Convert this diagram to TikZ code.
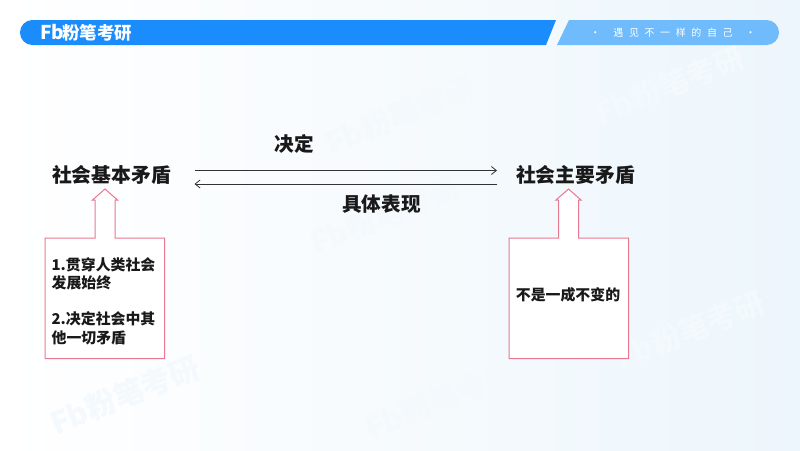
\documentclass[tikz,border=0pt]{standalone}
\usepackage{fontspec}
\setmainfont{Noto Sans CJK SC}
\usetikzlibrary{arrows.meta,shadings,calc}
\definecolor{barblue}{HTML}{1B8CFB}
\definecolor{barlight}{HTML}{6FBBFB}
\definecolor{pinkline}{HTML}{E8788F}
\definecolor{lineink}{HTML}{333333}
\definecolor{bgend}{HTML}{EDF6FC}
\definecolor{wm}{HTML}{F3F9FD}
\newcommand{\tightlines}{\setlength{\lineskiplimit}{-100pt}}
\tikzset{
  every node/.style={inner sep=0pt,outer sep=0pt},
  title/.style={font=\bfseries\fontsize{19.8}{24}\selectfont,text=black!90,anchor=center},
  edgelabel/.style={font=\bfseries\fontsize{19.6}{24}\selectfont,text=black!90,anchor=center},
  boxtext/.style={font=\bfseries\fontsize{14.9}{18.2}\selectfont,text=black!90,align=left},
  callout/.style={draw=pinkline,line width=1pt,fill=white,line join=miter},
  link/.style={draw=lineink,line width=0.8pt,-{Straight Barb[length=5pt,width=8pt]}},
  watermark/.style={font=\bfseries\fontsize{30}{36}\selectfont,text=wm,rotate=22,anchor=center},
}
\begin{document}
\begin{tikzpicture}[x=1pt,y=-1pt]
\useasboundingbox (0,0) rectangle (800,450);
% background
\shade[shading=axis,shading angle=70,left color=white,right color=bgend] (0,0) rectangle (800,450);
% watermarks
\node[watermark] (wa) at (400,115) {Fb粉笔考研};
\node[watermark] (wb) at (125,395) {Fb粉笔考研};
\node[watermark] (wc) at (385,215) {Fb粉笔考研};
\node[watermark] (wd) at (440,400) {Fb粉笔考研};
\node[watermark] (we) at (670,85) {Fb粉笔考研};
\node[watermark] (wf) at (690,330) {Fb粉笔考研};
% header
\fill[barblue,rounded corners=12.4pt] (45,45) -- (20,45) -- (20,20) -- (45,20) [sharp corners] -- (556,20) -- (546,45) -- cycle;
\fill[barlight,rounded corners=12.4pt] (750,20) -- (779,20) -- (779,45) -- (750,45) [sharp corners] -- (557,45) -- (569,20) -- cycle;
\node[font=\bfseries\fontsize{19}{22}\selectfont,text=white,anchor=west] (logoa) at (40,32.5) {Fb};
\node[font=\bfseries\fontsize{17.5}{22}\selectfont,text=white,anchor=west] (logob) at (62,32.5) {粉笔考研};
\node[font=\fontsize{10}{12}\selectfont,text=white,anchor=center] (slogan) at (673,32.5) {·\hspace{13pt}遇\hspace{5.6pt}见\hspace{5.6pt}不\hspace{5.6pt}一\hspace{5.6pt}样\hspace{5.6pt}的\hspace{5.6pt}自\hspace{5.6pt}己\hspace{13pt}·};
% callouts
\path[callout] (45,238) -- (95,238) -- (95,200) -- (92.5,200) -- (105,189) -- (117.5,200) -- (115,200) -- (115,238) -- (164.5,238) -- (164.5,358.5) -- (45,358.5) -- cycle;
\path[callout] (509,238) -- (558.5,238) -- (558.5,200) -- (556,200) -- (568.5,189) -- (581,200) -- (578.5,200) -- (578.5,238) -- (628.5,238) -- (628.5,358.5) -- (509,358.5) -- cycle;
% titles
\node[title] (basic) at (111.5,174.5) {社会基本矛盾};
\node[title] (main) at (575.5,174.5) {社会主要矛盾};
% connectors
\coordinate (ba) at (194.5,170.5);
\coordinate (mb) at (497,170.5);
\coordinate (bc) at (194.5,184);
\coordinate (md) at (497,184);
\draw[link] (ba) -- (mb);
\draw[link] (md) -- (bc);
\node[edgelabel] (decide) at (294.5,144) {决定};
\node[edgelabel] (express) at (381.5,204) {具体表现};
% box texts
\node[boxtext,anchor=center] (list) at (103.5,301) {\tightlines 1.贯穿人类社会\\发展始终\\[18.2pt]2.决定社会中其\\他一切矛盾};
\node[boxtext,anchor=center] (fixed) at (568,295) {不是一成不变的};
\end{tikzpicture}
\end{document}
